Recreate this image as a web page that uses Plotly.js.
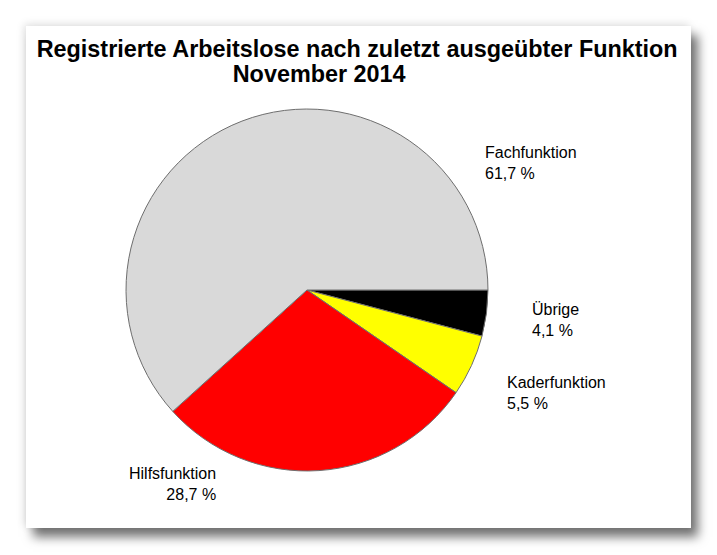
<!DOCTYPE html>
<html>
<head>
<meta charset="utf-8">
<script src="https://cdn.plot.ly/plotly-3.0.1.min.js"></script>
<style>
  html, body { margin: 0; padding: 0; background: #ffffff; width: 717px; height: 555px; overflow: hidden; }
  #panel { position: absolute; left: 26px; top: 26px; width: 665px; height: 502px;
           background: #fff; box-shadow: 7px 9px 10px rgba(0,0,0,0.55), -2px -2px 8px rgba(0,0,0,0.12); }
  #chart { width: 665px; height: 502px; }
</style>
</head>
<body>
<div id="panel"><div id="chart"></div></div>
<script>
// Data
var categories = ["Fachfunktion", "Hilfsfunktion", "Kaderfunktion", "Übrige"];
var shares = [61.7, 28.7, 5.5, 4.1];
var sliceColors = ["#d9d9d9", "#ff0000", "#ffff00", "#000000"];
var titleLine1 = "Registrierte Arbeitslose nach zuletzt ausgeübter Funktion";
var titleLine2 = "November 2014";

// label placement (paper coords) and alignment, one per category
var labelX = [0.6875, 0.288, 0.720, 0.758];
var labelY = [0.768, 0.129, 0.311, 0.457];
var labelAnchor = ["left", "right", "left", "left"];

function fmt(v) { return v.toFixed(1).replace(".", ",") + " %"; }

var annotations = categories.map(function (c, i) {
  return {
    text: c + "<br>" + fmt(shares[i]),
    x: labelX[i], y: labelY[i], xref: "paper", yref: "paper",
    xanchor: labelAnchor[i], yanchor: "top", align: labelAnchor[i],
    showarrow: false,
    font: { family: "Liberation Sans, Arial, sans-serif", size: 16, color: "#000" }
  };
});

// slices drawn clockwise from 3 o'clock in reverse order so that,
// read counterclockwise, the order is Fach, Hilfs, Kader, Übrige
var revLabels = categories.slice().reverse();
var revValues = shares.slice().reverse();
var revColors = sliceColors.slice().reverse();

var data = [{
  type: "pie",
  labels: revLabels,
  values: revValues,
  sort: false,
  direction: "clockwise",
  rotation: 90,
  textinfo: "none",
  hoverinfo: "label+percent",
  marker: { colors: revColors, line: { color: "#6e6e6e", width: 1 } },
  domain: { x: [0.1504, 0.6947], y: [0.1135, 0.8347] },
  showlegend: false
}];

var layout = {
  width: 665, height: 502,
  margin: { l: 0, r: 0, t: 0, b: 0 },
  paper_bgcolor: "#ffffff",
  title: {
    text: "<b>" + titleLine1 + "<br>" + titleLine2 + "</b>",
    x: 0.498, xanchor: "center", xref: "paper",
    y: 0.938, yanchor: "top", yref: "container",
    font: { family: "Liberation Sans, Arial, sans-serif", size: 23, color: "#000" }
  },
  annotations: annotations,
  showlegend: false
};

Plotly.newPlot("chart", data, layout, { displayModeBar: false, staticPlot: true }).then(function (gd) {
  // fit the title width to the reference and tighten the line spacing
  var t = gd.querySelector(".gtitle");
  if (!t) return;
  var sx = 1.017;
  var x = parseFloat(t.getAttribute("x"));
  var tr = t.getAttribute("transform") || "";
  t.setAttribute("transform", tr + " translate(" + x + ",0) scale(" + sx + ",1) translate(" + (-x) + ",0)");
  var lines = t.querySelectorAll("tspan.line");
  if (lines.length > 1) {
    lines[1].setAttribute("dy", "1.1em");
    lines[1].setAttribute("x", x - 38 / sx);
  }
});
</script>
</body>
</html>
